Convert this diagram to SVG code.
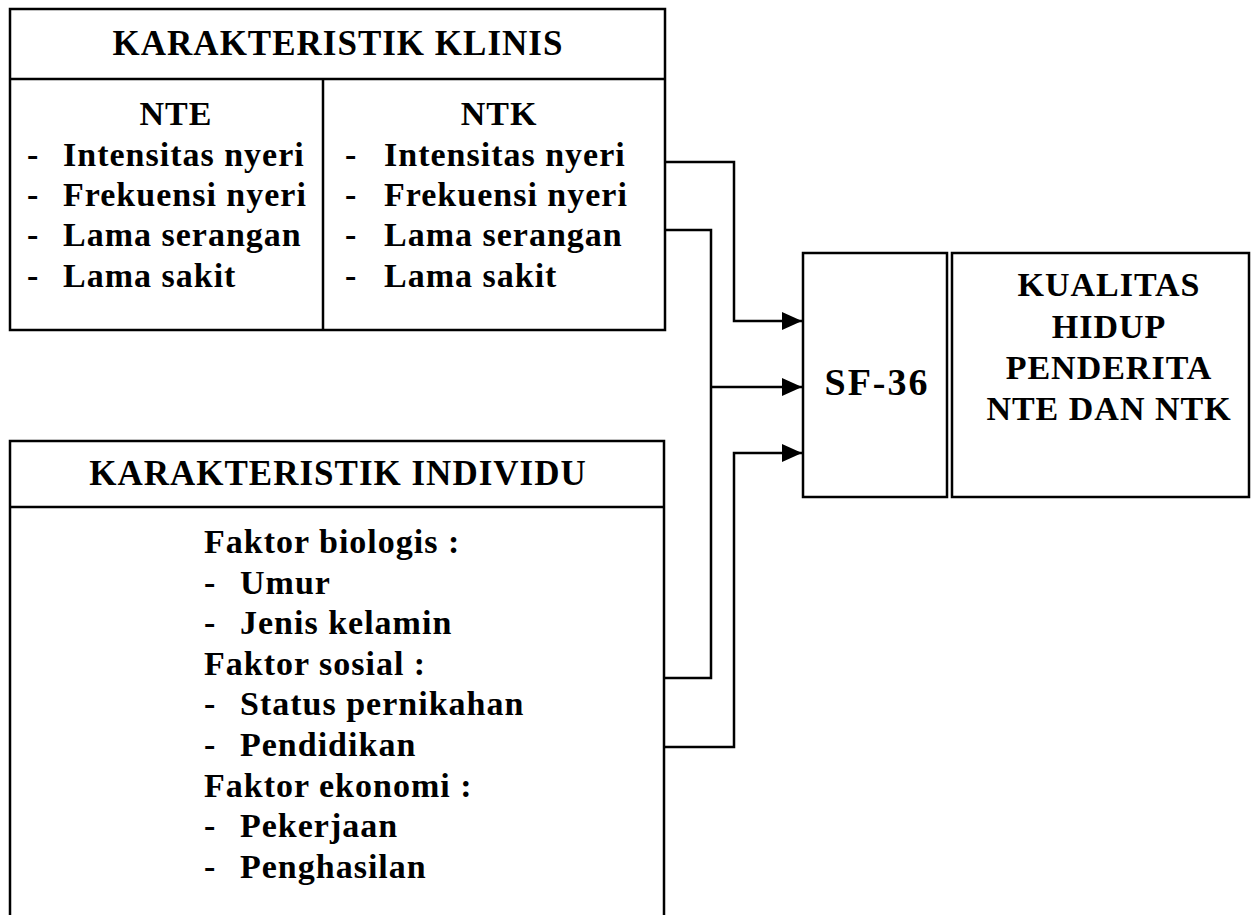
<svg xmlns="http://www.w3.org/2000/svg" width="1251" height="915" viewBox="0 0 1251 915">
<style>
.box{fill:none;stroke:#000;stroke-width:2.5}
.con{fill:none;stroke:#000;stroke-width:2.5}
text{font-family:"Liberation Serif","Times New Roman",serif;font-weight:bold;fill:#000;font-size:34px;letter-spacing:1px}
.c{text-anchor:middle}
</style>
<defs>
<marker id="arr" markerUnits="userSpaceOnUse" markerWidth="22" markerHeight="20" refX="20" refY="9" orient="auto">
<path d="M0,0 L20,9 L0,18 Z" fill="#000"/>
</marker>
</defs>
<rect width="1251" height="915" fill="#fff"/>

<g id="klinis">
<rect class="box" x="10" y="9" width="655" height="321"/>
<line class="box" x1="10" y1="79" x2="665" y2="79"/>
<line class="box" x1="323" y1="79" x2="323" y2="330"/>
<text class="c" x="338" y="55" style="font-size:35px">KARAKTERISTIK KLINIS</text>
<text class="c" x="176" y="125">NTE</text>
<text x="27" y="166">-</text><text x="63" y="166">Intensitas nyeri</text>
<text x="27" y="206">-</text><text x="63" y="206">Frekuensi nyeri</text>
<text x="27" y="246">-</text><text x="63" y="246">Lama serangan</text>
<text x="27" y="287">-</text><text x="63" y="287">Lama sakit</text>
<text class="c" x="499" y="125">NTK</text>
<text x="345" y="166">-</text><text x="384" y="166">Intensitas nyeri</text>
<text x="345" y="206">-</text><text x="384" y="206">Frekuensi nyeri</text>
<text x="345" y="246">-</text><text x="384" y="246">Lama serangan</text>
<text x="345" y="287">-</text><text x="384" y="287">Lama sakit</text>
</g>

<g id="individu">
<path class="box" d="M10,920 V441 H664 V920"/>
<line class="box" x1="10" y1="507" x2="664" y2="507"/>
<text class="c" x="338" y="485" style="font-size:35px">KARAKTERISTIK INDIVIDU</text>
<text x="204" y="553">Faktor biologis :</text>
<text x="204" y="594">-</text><text x="240" y="594">Umur</text>
<text x="204" y="634">-</text><text x="240" y="634">Jenis kelamin</text>
<text x="204" y="675">Faktor sosial :</text>
<text x="204" y="715">-</text><text x="240" y="715">Status pernikahan</text>
<text x="204" y="756">-</text><text x="240" y="756">Pendidikan</text>
<text x="204" y="797">Faktor ekonomi :</text>
<text x="204" y="837">-</text><text x="240" y="837">Pekerjaan</text>
<text x="204" y="878">-</text><text x="240" y="878">Penghasilan</text>
</g>

<g id="sf36">
<rect class="box" x="803" y="253" width="144" height="244"/>
<text class="c" x="877" y="395" style="font-size:38px;letter-spacing:2px">SF-36</text>
</g>

<g id="kualitas">
<rect class="box" x="952" y="253" width="297" height="244"/>
<g style="letter-spacing:1.5px">
<text class="c" x="1109" y="296">KUALITAS</text>
<text class="c" x="1109" y="338">HIDUP</text>
<text class="c" x="1109" y="379">PENDERITA</text>
<text class="c" x="1109" y="420">NTE DAN NTK</text>
</g>
</g>

<g id="connectors">
<path class="con" d="M665,162 H734 V321 H802" marker-end="url(#arr)"/>
<path class="con" d="M665,230 H711 V678 H665"/>
<path class="con" d="M711,387 H802" marker-end="url(#arr)"/>
<path class="con" d="M665,747 H734 V453 H802" marker-end="url(#arr)"/>
</g>
</svg>
